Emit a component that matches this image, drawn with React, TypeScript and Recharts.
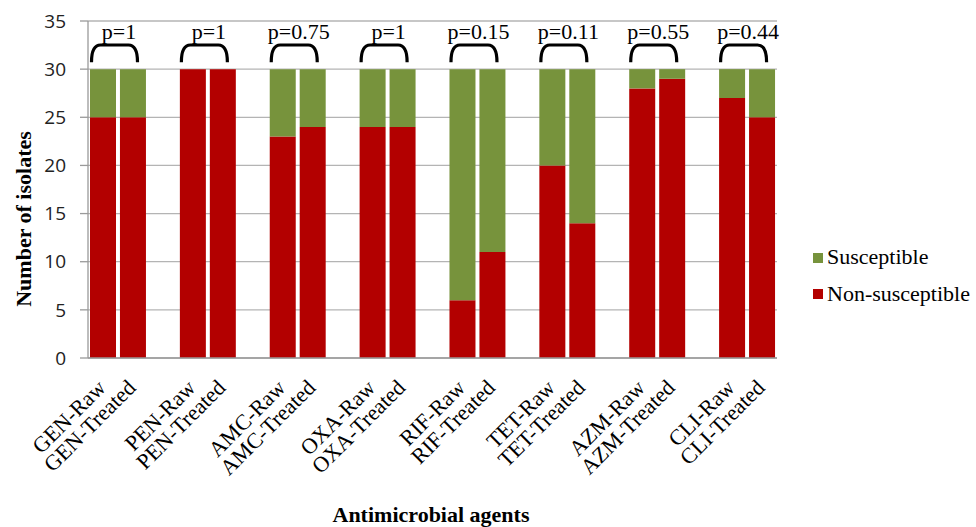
import React from "react";
import {
  BarChart,
  Bar,
  XAxis,
  YAxis,
  CartesianGrid,
  Legend,
  ReferenceArea,
} from "recharts";

// ---- data ----
const agents = ["GEN", "PEN", "AMC", "OXA", "RIF", "TET", "AZM", "CLI"];
const nonSusceptibleRaw = [25, 30, 23, 24, 6, 20, 28, 27];
const nonSusceptibleTreated = [25, 30, 24, 24, 11, 14, 29, 25];
const susceptibleRaw = [5, 0, 7, 6, 24, 10, 2, 3];
const susceptibleTreated = [5, 0, 6, 6, 19, 16, 1, 5];
const pValues = ["p=1", "p=1", "p=0.75", "p=1", "p=0.15", "p=0.11", "p=0.55", "p=0.44"];
const yTicks = [0, 5, 10, 15, 20, 25, 30, 35];

const RED = "#B30000";
const GREEN = "#77933C";
const SERIF = "'Liberation Serif', 'Times New Roman', serif";
const SANS = "'Open Sans', 'Noto Sans', sans-serif";

type Row = { key: string; label: string; ns?: number; s?: number };

const rows: Row[] = [];
agents.forEach((a, i) => {
  rows.push({ key: `${a}-Raw`, label: `${a}-Raw`, ns: nonSusceptibleRaw[i], s: susceptibleRaw[i] });
  rows.push({ key: `${a}-Treated`, label: `${a}-Treated`, ns: nonSusceptibleTreated[i], s: susceptibleTreated[i] });
  if (i < agents.length - 1) rows.push({ key: `gap${i}`, label: "" });
});
const labelOf: Record<string, string> = {};
rows.forEach((r) => (labelOf[r.key] = r.label));

const XTick = (props: any) => {
  const { x, y, payload } = props;
  const label = labelOf[payload.value];
  if (!label) return null;
  const ax = x + 4;
  const ay = y + 31;
  return (
    <text
      x={ax}
      y={ay}
      transform={`rotate(-45, ${ax}, ${ay})`}
      textAnchor="end"
      fontFamily={SERIF}
      fontSize={22}
      fill="#000"
    >
      {label}
    </text>
  );
};

const makeBracket = (p: string) => (props: any) => {
  const { x, y, height } = props;
  const x1 = x + 3.5;
  const x2 = x + 49.5;
  const bottom = y + height - 7;
  const top = y + 24;
  return (
    <g>
      <path
        d={`M ${x1} ${bottom} Q ${x1} ${top} ${x1 + 9} ${top} L ${x2 - 9} ${top} Q ${x2} ${top} ${x2} ${bottom}`}
        fill="none"
        stroke="#000"
        strokeWidth={3.2}
      />
      <text x={x + 31} y={y + 18} textAnchor="middle" fontFamily={SERIF} fontSize={22} fill="#000">
        {p}
      </text>
    </g>
  );
};

const LegendContent = () => (
  <svg width={176} height={80}>
    <rect x={13} y={13} width={10} height={10} fill={GREEN} />
    <text x={27} y={24} fontFamily={SERIF} fontSize={22} fill="#000">
      Susceptible
    </text>
    <rect x={13} y={49} width={10} height={10} fill={RED} />
    <text x={27} y={61} fontFamily={SERIF} fontSize={22} fill="#000">
      Non-susceptible
    </text>
  </svg>
);

export default function App() {
  return (
    <div style={{ position: "absolute", left: 0, top: 0, width: 976, height: 527, background: "#fff" }}>
      <BarChart
        width={976}
        height={527}
        data={rows}
        margin={{ top: 21, right: 199, bottom: 0, left: 0 }}
        barSize={26}
      >
        <CartesianGrid vertical={false} stroke="#B4B4B4" strokeWidth={1.3} />
        <XAxis
          dataKey="key"
          interval={0}
          height={169}
          tickLine={false}
          tickSize={0}
          tickMargin={0}
          stroke="#9A9A9A"
          strokeWidth={1.3}
          tick={<XTick />}
          label={(p: any) => (
            <text x={431} y={522} textAnchor="middle" fontFamily={SERIF} fontWeight="bold" fontSize={22} fill="#000">
              Antimicrobial agents
            </text>
          )}
        />
        <YAxis
          width={88}
          domain={[0, 35]}
          ticks={yTicks}
          interval={0}
          tickSize={8}
          tickMargin={14}
          stroke="#9A9A9A"
          strokeWidth={1.3}
          tick={{ fontFamily: SANS, fontSize: 19, fill: "#222" }}
          label={(p: any) => (
            <text
              x={31}
              y={219}
              transform="rotate(-90, 31, 219)"
              textAnchor="middle"
              fontFamily={SERIF}
              fontWeight="bold"
              fontSize={22}
              fill="#000"
            >
              Number of isolates
            </text>
          )}
        />
        <Legend
          layout="horizontal"
          align="center"
          verticalAlign="middle"
          content={<LegendContent />}
          wrapperStyle={{ left: 800, top: 240, width: 176, height: 80 }}
        />
        <Bar dataKey="ns" name="Non-susceptible" stackId="a" fill={RED} isAnimationActive={false} />
        <Bar dataKey="s" name="Susceptible" stackId="a" fill={GREEN} isAnimationActive={false} />
        {agents.map((a, i) => (
          <ReferenceArea
            key={a}
            x1={`${a}-Raw`}
            x2={`${a}-Treated`}
            y1={30}
            y2={35}
            fill="none"
            stroke="none"
            shape={makeBracket(pValues[i])}
          />
        ))}
      </BarChart>
    </div>
  );
}
